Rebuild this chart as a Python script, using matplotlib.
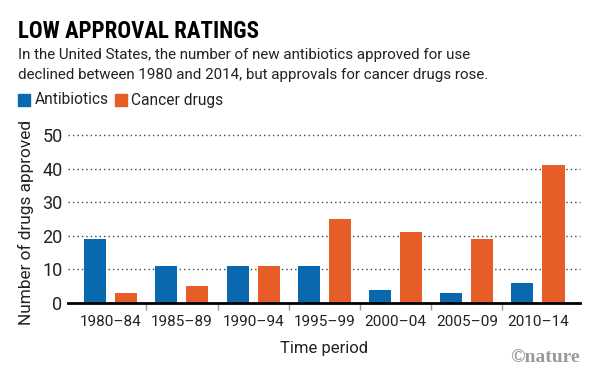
# Recreating the Nature chart: antibiotics vs cancer drug approvals
import numpy as np
import matplotlib.pyplot as plt
from matplotlib.ticker import FixedLocator, NullFormatter

# Data
periods = ['1980–84', '1985–89', '1990–94', '1995–99', '2000–04', '2005–09', '2010–14']
antibiotics = [19, 11, 11, 11, 4, 3, 6]
cancer_drugs = [3, 5, 11, 25, 21, 19, 41]
y_ticks = [0, 10, 20, 30, 40, 50]

blue = '#0a69ae'
orange = '#e65d28'

plt.rcParams['font.family'] = ['Roboto', 'DejaVu Sans']

W, H = 600, 375
fig = plt.figure(figsize=(W / 100, H / 100), dpi=100)

# axes placed in pixel terms
left, right, top, bottom = 68, 580, 135, 303
ax = fig.add_axes([left / W, 1 - bottom / H, (right - left) / W, (bottom - top) / H])

x = np.arange(len(periods))
bw = 0.31
off = 0.218
ax.bar(x - off, antibiotics, bw, color=blue, zorder=3)
ax.bar(x + off, cancer_drugs, bw, color=orange, zorder=3)

ax.set_xlim(-0.6, len(periods) - 0.5 + 0.09)
ax.set_ylim(0, 50)

# dotted gridlines
for v in y_ticks[1:]:
    ax.axhline(v, color='#444444', linestyle=(0, (1, 2.2)), linewidth=1, zorder=1, clip_on=False)
ax.axhline(0, color='black', linewidth=2, zorder=4, clip_on=False)

for s in ax.spines.values():
    s.set_visible(False)

ax.set_yticks(y_ticks)
ax.tick_params(axis='y', length=0, pad=4, labelsize=13, labelcolor='#222222')

# separators as major ticks, labels on minor ticks
ax.xaxis.set_major_locator(FixedLocator(x[:-1] + 0.5))
ax.xaxis.set_major_formatter(NullFormatter())
ax.xaxis.set_minor_locator(FixedLocator(x))
ax.set_xticklabels(periods, minor=True)
ax.tick_params(axis='x', which='major', length=5, width=1, color='#999999')
ax.tick_params(axis='x', which='minor', length=0, pad=9, labelsize=11, labelcolor='#222222')

ax.set_xlabel('Time period', fontsize=12, color='#222222', labelpad=8)
ax.set_ylabel('Number of drugs approved', fontsize=12.4, color='#222222')
ax.yaxis.set_label_coords(-0.066, 0.48)

# title block
fig.text(18 / W, 1 - 31 / H, 'LOW APPROVAL RATINGS', fontsize=16.5, fontweight='black',
         family=['Roboto Condensed', 'Liberation Sans Narrow', 'DejaVu Sans'], fontstretch='condensed',
         va='center', ha='left', color='black')
fig.text(18 / W, 1 - 55 / H, 'In the United States, the number of new antibiotics approved for use',
         fontsize=10.9, va='center', ha='left', color='#222222')
fig.text(18 / W, 1 - 75 / H, 'declined between 1980 and 2014, but approvals for cancer drugs rose.',
         fontsize=10.9, va='center', ha='left', color='#222222')

# legend
fig.patches.append(plt.Rectangle((18 / W, 1 - 106 / H), 12 / W, 12 / H, color=blue,
                                 transform=fig.transFigure))
fig.text(35 / W, 1 - 100 / H, 'Antibiotics', fontsize=11.2, va='center', ha='left', color='#222222')
fig.patches.append(plt.Rectangle((115 / W, 1 - 106 / H), 12 / W, 12 / H, color=orange,
                                 transform=fig.transFigure))
fig.text(131 / W, 1 - 100 / H, 'Cancer drugs', fontsize=11.2, va='center', ha='left', color='#222222')

# logo
fig.text(580 / W, 1 - 357 / H, '©nature', fontsize=14, fontweight='bold',
         family=['Liberation Serif', 'DejaVu Serif'], color='#9a9a9a', va='center', ha='right')

fig.savefig('out.png', dpi=100)
